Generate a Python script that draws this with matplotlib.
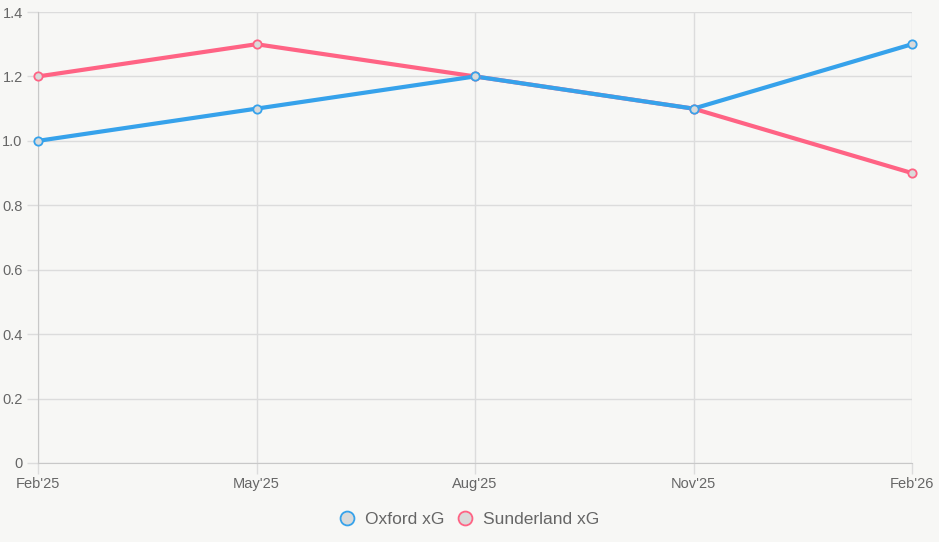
#!/usr/bin/env python3
"""Oxford vs Sunderland xG line chart."""

import matplotlib.pyplot as plt
from matplotlib.lines import Line2D

MONTHS = ["Feb'25", "May'25", "Aug'25", "Nov'25", "Feb'26"]
OXFORD_XG = [1.0, 1.1, 1.2, 1.1, 1.3]
SUNDERLAND_XG = [1.2, 1.3, 1.2, 1.1, 0.9]
Y_TICKS = [0, 0.2, 0.4, 0.6, 0.8, 1.0, 1.2, 1.4]
Y_LABELS = ["0", "0.2", "0.4", "0.6", "0.8", "1.0", "1.2", "1.4"]

BLUE = "#36A2EB"
PINK = "#FF6384"
BG = "#f7f7f5"
GRID = "#dcdcdc"
TEXT = "#666666"


def main() -> None:
    fig = plt.figure(figsize=(9.39, 5.42), dpi=100, facecolor=BG)
    ax = fig.add_axes([38 / 939, 79 / 542, 874 / 939, 451 / 542], facecolor=BG)

    x = list(range(len(MONTHS)))
    series = [("Sunderland xG", SUNDERLAND_XG, PINK, 2), ("Oxford xG", OXFORD_XG, BLUE, 3)]
    for label, vals, color, z in series:
        ax.plot(x, vals, color=color, lw=3, zorder=z, solid_capstyle="round")
        ax.plot(x, vals, ls="none", marker="o", ms=6, mfc="#dadada", mec=color,
                mew=1.3, zorder=z + 2, clip_on=False)

    ax.set_xlim(0, len(MONTHS) - 1)
    ax.set_ylim(0, 1.4)
    ax.set_xticks(x)
    ax.set_xticklabels(MONTHS)
    ax.set_yticks(Y_TICKS)
    ax.set_yticklabels(Y_LABELS)
    ax.grid(True, color=GRID, lw=1)
    ax.set_axisbelow(True)
    for side in ("top", "right"):
        ax.spines[side].set_visible(False)
    for side in ("left", "bottom"):
        ax.spines[side].set_color("#c8c8c8")
    ax.tick_params(axis="both", colors=GRID, labelcolor=TEXT, labelsize=10.5, length=8, width=1)
    ax.tick_params(axis="x", pad=2)
    ax.tick_params(axis="y", pad=3)
    for lab in ax.get_xticklabels() + ax.get_yticklabels():
        lab.set_fontfamily("Liberation Sans")

    handles = [
        Line2D([], [], ls="none", marker="o", ms=10, mfc="#dadada", mec=BLUE, mew=1.3),
        Line2D([], [], ls="none", marker="o", ms=10, mfc="#dadada", mec=PINK, mew=1.3),
    ]
    fig.legend(handles, ["Oxford xG", "Sunderland xG"], loc="center", bbox_to_anchor=(0.5, 23 / 542),
               ncol=2, frameon=False, handlelength=0.8, handletextpad=0.63, columnspacing=0.8,
               prop={"family": "Liberation Sans", "size": 12.5}, labelcolor=TEXT)

    fig.savefig("out.png", dpi=100, facecolor=BG)
    plt.close(fig)


if __name__ == "__main__":
    main()
